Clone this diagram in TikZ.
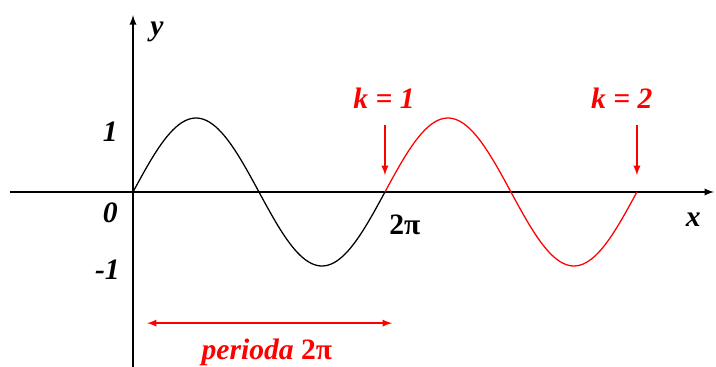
\documentclass[tikz,border=0pt]{standalone}
\usepackage{fontspec}
\setmainfont{Liberation Serif}
\usetikzlibrary{positioning}
\tikzset{every picture/.style={line width=0.75pt}}
\tikzset{rotulo/.style={font=\fontsize{21}{24}\selectfont\bfseries\itshape, inner sep=1pt}}

\begin{document}
\begin{tikzpicture}[>=latex, rotulo]
        \useasboundingbox (-3.317,-4.364) rectangle (14.539,4.788);
        % eixos
        \coordinate (xini) at (-3.07,0);
        \coordinate (xfim) at (14.49,0);
        \coordinate (yini) at (0,-4.364);
        \coordinate (yfim) at (0,4.41);
        \draw[->, line width=1.3pt] (xini) -- (xfim);
        \draw[->, line width=1.3pt] (yini) -- (yfim);
        \node[rotulo] (ylab) at (0.6,3.99) {y};
        \node[rotulo] (xlab) at (13.97,-0.70) {x};
        \node[rotulo] (um) at (-0.57,1.50) {1};
        \node[rotulo] (zero) at (-0.57,-0.52) {0};
        \node[rotulo] (menosum) at (-0.64,-1.95) {-1};
        \node[rotulo, font=\fontsize{21}{24}\selectfont\bfseries] (dpi) at (6.78,-0.82) {2π};
        % seno: primeiro periodo preto, segundo vermelho
        \draw[black, line width=0.9pt] plot[domain=0:2*pi, samples=90] (\x, {1.845*sin(\x r)});
        \draw[red, line width=0.9pt] plot[domain=2*pi:4*pi, samples=90] (\x, {1.845*sin(\x r)});
        % marcas k
        \node[rotulo, text=red] (k1) at (6.26,2.34) {k = 1};
        \node[rotulo, text=red] (k2) at (12.19,2.34) {k = 2};
        \coordinate (k1a) at (2*pi,1.67);
        \coordinate (k1b) at (2*pi,0.42);
        \coordinate (k2a) at (4*pi,1.67);
        \coordinate (k2b) at (4*pi,0.42);
        \draw[->, red, line width=1.3pt] (k1a) -- (k1b);
        \draw[->, red, line width=1.3pt] (k2a) -- (k2b);
        % periodo
        \coordinate (pa) at (0.35,-3.27);
        \coordinate (pb) at (6.46,-3.27);
        \draw[<->, red, line width=1.3pt] (pa) -- (pb);
        \node[rotulo, text=red] (per) at (3.34,-3.99) {perioda {\upshape 2π}};
\end{tikzpicture}
\end{document}
